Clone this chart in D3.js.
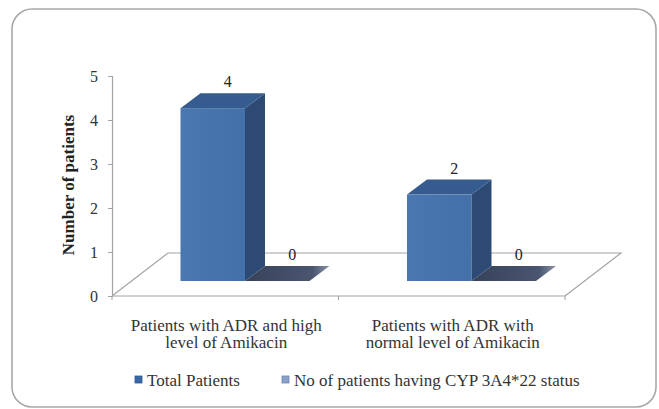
<!DOCTYPE html>
<html><head><meta charset="utf-8">
<script src="https://cdn.jsdelivr.net/npm/d3@7"></script>
<style>body{margin:0;background:#fff}svg text{font-family:"Liberation Serif","Times New Roman",Tinos,"DejaVu Serif",serif}</style>
</head><body><svg id="c" width="659" height="409"></svg>
<script>
const categories = [["Patients with ADR and high","level of Amikacin"],["Patients with ADR with","normal level of Amikacin"]];
const seriesNames = ["Total Patients","No of patients having CYP 3A4*22 status"];
const totalPatients = [4, 2];
const cypPatients = [0, 0];
const yTicks = [0,1,2,3,4,5];

const FONT = "'Liberation Serif', 'Times New Roman', Tinos, 'DejaVu Serif', serif";
const svg = d3.select("#c");
const defs = svg.append("defs");
const g1 = defs.append("linearGradient").attr("id","zero").attr("x1","0").attr("x2","1").attr("y1","0").attr("y2","0");
g1.append("stop").attr("offset","0").attr("stop-color","#36425a");
g1.append("stop").attr("offset","0.8").attr("stop-color","#4a5670");
g1.append("stop").attr("offset","1").attr("stop-color","#8a93a6");
const g2 = defs.append("linearGradient").attr("id","front").attr("x1","0").attr("x2","1");
g2.append("stop").attr("offset","0").attr("stop-color","#4a77b0");
g2.append("stop").attr("offset","1").attr("stop-color","#4370a9");

// frame
svg.append("rect").attr("x",12).attr("y",9).attr("width",644).attr("height",398).attr("rx",20)
  .attr("fill","#fff").attr("stroke","#a8a8a8").attr("stroke-width",1.6);

const x0 = d3.scaleBand().domain(d3.range(categories.length)).range([112,565]);
const x1 = d3.scaleBand().domain(d3.range(seriesNames.length)).range([49,178]);
const y = d3.scaleLinear().domain([0,5]).range([296,76]);
const hBar = d3.scaleLinear().domain([0,5]).range([0,216]);
const depth = {dx:56, dy:-43};
const barOff = {dx:19.5, dy:-15};
const barDepth = {dx:20, dy:-15};

const grid = "#a3a3a3";
// floor
const f0 = [x0.range()[0], y(0)], f1 = [x0.range()[1], y(0)];
svg.append("path").attr("d",
  `M${f0[0]},${f0[1]} L${f0[0]+depth.dx},${f0[1]+depth.dy} L${f1[0]+depth.dx},${f1[1]+depth.dy} L${f1[0]},${f1[1]}`)
  .attr("fill","none").attr("stroke",grid).attr("stroke-width",1.2);

// y axis
const ya = svg.append("g").attr("transform",`translate(${f0[0]},0)`)
  .call(d3.axisLeft(y).tickValues(yTicks).tickSize(4).tickPadding(10).tickFormat(d3.format("d")));
ya.attr("font-family", FONT);
ya.select(".domain").attr("stroke",grid).attr("stroke-width",1.2);
ya.selectAll(".tick line").attr("stroke",grid);
ya.selectAll("text").attr("font-size",16).attr("fill","#333").attr("font-family",FONT);

// x axis front edge
const xa = svg.append("g").attr("transform",`translate(0,${y(0)})`);
xa.append("line").attr("x1",f0[0]).attr("x2",f1[0]).attr("stroke",grid).attr("stroke-width",1.2);
[...d3.range(categories.length).map(i=>x0(i)), x0.range()[1]].forEach(xx=>{
  xa.append("line").attr("x1",xx).attr("x2",xx).attr("y1",0).attr("y2",4).attr("stroke",grid);
});

// bars
const seriesVals = [totalPatients, cypPatients];
const colors = [{front:"url(#front)", top:"#365b8e", side:"#2c4a74"},{front:"#3d4a62", top:"url(#zero)", side:"#2f3a50"}];
const labels = [];
seriesVals.forEach((vals, s)=>{
  vals.forEach((v,i)=>{
    const xl = x0(i) + x1(s) + barOff.dx;
    const w = x1.bandwidth();
    const yb = y(0) + barOff.dy;
    const yt = yb - hBar(v);
    const c = colors[s];
    const gg = svg.append("g");
    if (v > 0) {
      gg.append("rect").attr("x",xl).attr("y",yt).attr("width",w).attr("height",yb-yt).attr("fill",c.front);
      gg.append("path").attr("d",`M${xl+w},${yt} L${xl+w+barDepth.dx},${yt+barDepth.dy} L${xl+w+barDepth.dx},${yb+barDepth.dy} L${xl+w},${yb} Z`).attr("fill",c.side);
      gg.append("path").attr("d",`M${xl},${yt} L${xl+barDepth.dx},${yt+barDepth.dy} L${xl+w+barDepth.dx},${yt+barDepth.dy} L${xl+w},${yt} Z`).attr("fill",c.top);
    } else {
      gg.append("path").attr("d",`M${xl},${yb} L${xl+barDepth.dx},${yb+barDepth.dy} L${xl+w+barDepth.dx},${yb+barDepth.dy} L${xl+w},${yb} Z`).attr("fill",c.top);
    }
    labels.push({x: xl + w/2 + barDepth.dx*0.75, y: yt + barDepth.dy - 6, t: v});
  });
});
svg.selectAll("text.dl").data(labels).join("text").attr("class","dl").attr("font-family",FONT)
  .attr("x",d=>d.x).attr("y",d=>d.y).attr("text-anchor","middle").attr("font-size",16).attr("fill","#222").text(d=>d.t);

// category labels
categories.forEach((lines,i)=>{
  const cx = x0(i) + x0.bandwidth()/2 + 1;
  const t = svg.append("text").attr("text-anchor","middle").attr("font-size",17).attr("fill","#333").attr("font-family",FONT);
  lines.forEach((l,k)=> t.append("tspan").attr("x",cx).attr("y",331+k*17).text(l));
});

// y title
svg.append("text").attr("transform","translate(74,185) rotate(-90)").attr("text-anchor","middle").attr("font-family",FONT)
  .attr("font-size",17).attr("font-weight","bold").attr("fill","#222").text("Number of patients");

// legend
const legX = [135, 282];
const legColors = ["#3a68a6","#8aa2c8"];
seriesNames.forEach((n,i)=>{
  svg.append("rect").attr("x",legX[i]).attr("y",376).attr("width",7).attr("height",7)
    .attr("fill",legColors[i]).attr("stroke", i ? "#6b84ad" : "#2f578e").attr("stroke-width",0.8);
  svg.append("text").attr("x",legX[i]+12).attr("y",386).attr("font-size",17).attr("font-family",FONT).attr("fill","#333").text(n);
});
</script></body></html>
